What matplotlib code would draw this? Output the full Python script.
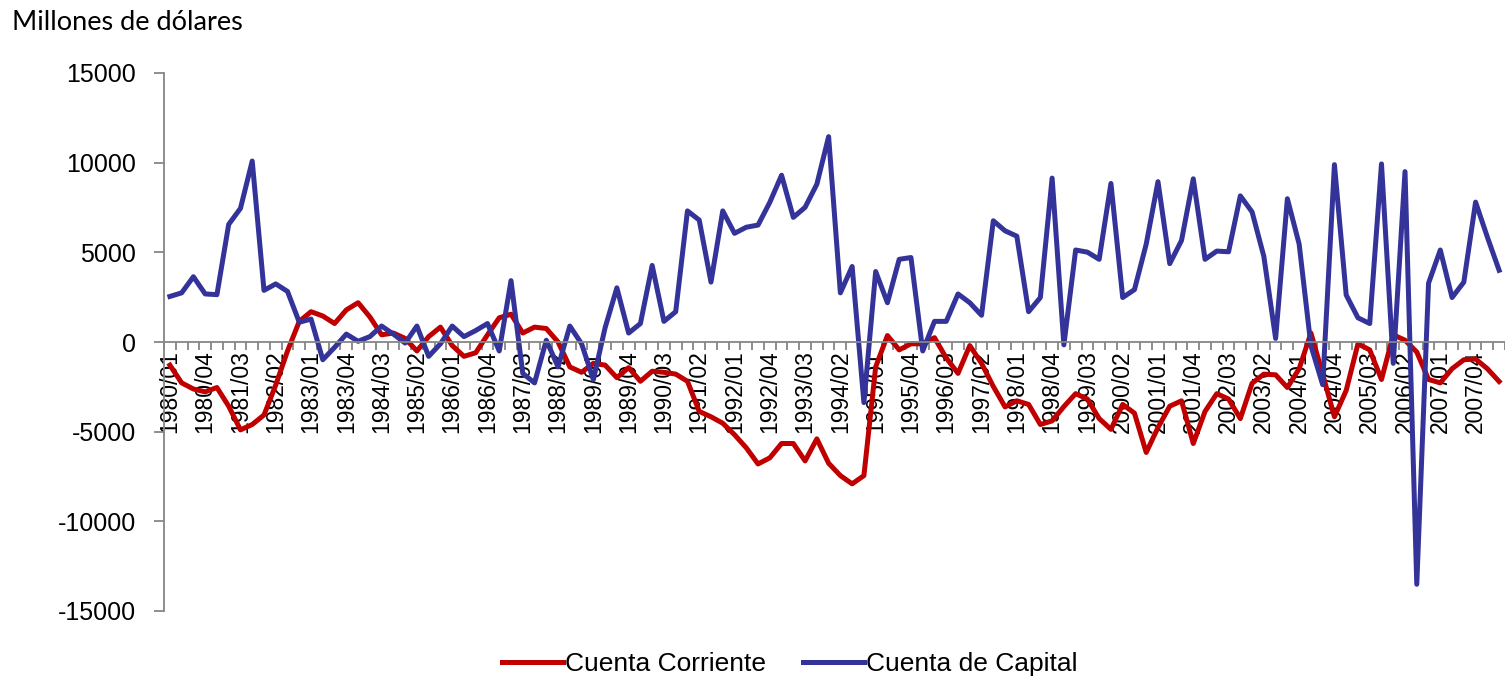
import matplotlib
matplotlib.use("Agg")
import matplotlib.pyplot as plt

# Balanza de pagos, datos trimestrales 1980/01 - 2008/02 (millones de dolares)
cuenta_corriente = [
    -1290, -2280, -2620, -2780, -2540, -3580, -4900, -4600, -4070, -2400,
    -500, 1150, 1690, 1450, 1030, 1790, 2190, 1400, 400, 500,
    200, -500, 300, 830, -200, -800, -600, 400, 1350, 1550,
    500, 830, 750, 0, -1390, -1690, -1190, -1290, -1990, -1430,
    -2190, -1630, -1690, -1790, -2190, -3870, -4170, -4530, -5170, -5900,
    -6800, -6460, -5660, -5660, -6630, -5400, -6760, -7450, -7910, -7450,
    -1390, 360, -440, -100, -100, 240, -890, -1750, -200, -1190,
    -2480, -3620, -3280, -3480, -4600, -4400, -3600, -2880, -3180, -4270,
    -4870, -3480, -3970, -6160, -4770, -3580, -3280, -5660, -3870, -2880,
    -3180, -4270, -2300, -1790, -1830, -2540, -1490, 500, -1800, -4170,
    -2700, -100, -440, -2090, 400, 100, -560, -2090, -2280, -1490,
    -990, -950, -1490, -2200,
]
cuenta_capital = [
    2540, 2740, 3640, 2680, 2640, 6560, 7450, 10090, 2880, 3240,
    2820, 1100, 1280, -990, -300, 440, 40, 300, 890, 440,
    -60, 890, -800, -100, 890, 300, 640, 1030, -500, 3420,
    -1750, -2280, 100, -1390, 890, -100, -2100, 800, 3020, 500,
    1030, 4270, 1150, 1690, 7310, 6800, 3340, 7310, 6060, 6400,
    6520, 7790, 9300, 6950, 7510, 8800, 11450, 2740, 4210, -3380,
    3930, 2190, 4610, 4710, -500, 1150, 1150, 2680, 2190, 1490,
    6760, 6200, 5900, 1690, 2480, 9140, -160, 5130, 5010, 4610,
    8840, 2480, 2920, 5460, 8940, 4370, 5660, 9100, 4610, 5070,
    5030, 8150, 7250, 4770, 200, 7990, 5460, -200, -2380, 9890,
    2620, 1350, 1030, 9930, -1190, 9500, -13510, 3280, 5130, 2480,
    3340, 7800, 5850, 4000,
]
anio_inicio = 1980
paso_etiquetas = 3
y_ticks = [-15000, -10000, -5000, 0, 5000, 10000, 15000]

n = len(cuenta_corriente)
periodos = [f"{anio_inicio + k // 4}/{k % 4 + 1:02d}" for k in range(n)]
x = list(range(n))

plt.rcParams["font.family"] = ["Liberation Sans", "DejaVu Sans"]

W, H = 1505, 679
fig = plt.figure(figsize=(W / 100, H / 100), dpi=100)
left = 164 / W
bottom = 1 - 611 / H
top = 1 - 73 / H
ax = fig.add_axes([left, bottom, 1 - left, top - bottom])

ax.plot(x, cuenta_corriente, color="#C00000", lw=3.6, label="Cuenta Corriente")
ax.plot(x, cuenta_capital, color="#333399", lw=3.6, label="Cuenta de Capital")

# el grafico original aparece recortado por la derecha
ax.set_xlim(-0.5, 112.7)
ax.set_ylim(-15000, 15000)

# ejes estilo Excel
for s in ("top", "right"):
    ax.spines[s].set_visible(False)
ax.spines["left"].set_color("#868686")
ax.spines["left"].set_linewidth(1.3)
ax.spines["bottom"].set_position(("data", 0))
ax.spines["bottom"].set_color("#868686")
ax.spines["bottom"].set_linewidth(1.3)

ax.set_yticks(y_ticks)
ax.set_yticklabels([str(v) for v in y_ticks], fontsize=18)
ax.tick_params(axis="y", direction="out", length=7, width=1.3, color="#868686", pad=13)

idx = list(range(0, n, paso_etiquetas))
ax.set_xticks(idx)
ax.set_xticklabels([periodos[i] for i in idx], rotation=90, fontsize=16.5)
ax.set_xticks([i - 0.5 for i in range(n + 1)], minor=True)
ax.tick_params(axis="x", which="major", length=0, pad=6)
ax.tick_params(axis="x", which="minor", direction="out", length=6, width=1.3,
               color="#868686")

fig.text(12 / W, 1 - 22 / H, "Millones de dólares", fontsize=19.5,
         family=["Lato", "DejaVu Sans"], va="center", ha="left")

fig.legend(loc="center", bbox_to_anchor=(790 / W, 1 - 664 / H), ncol=2,
           frameon=False, fontsize=19, handlelength=2.3, handletextpad=0.08,
           columnspacing=1.4)

fig.savefig("out.png", dpi=100)
